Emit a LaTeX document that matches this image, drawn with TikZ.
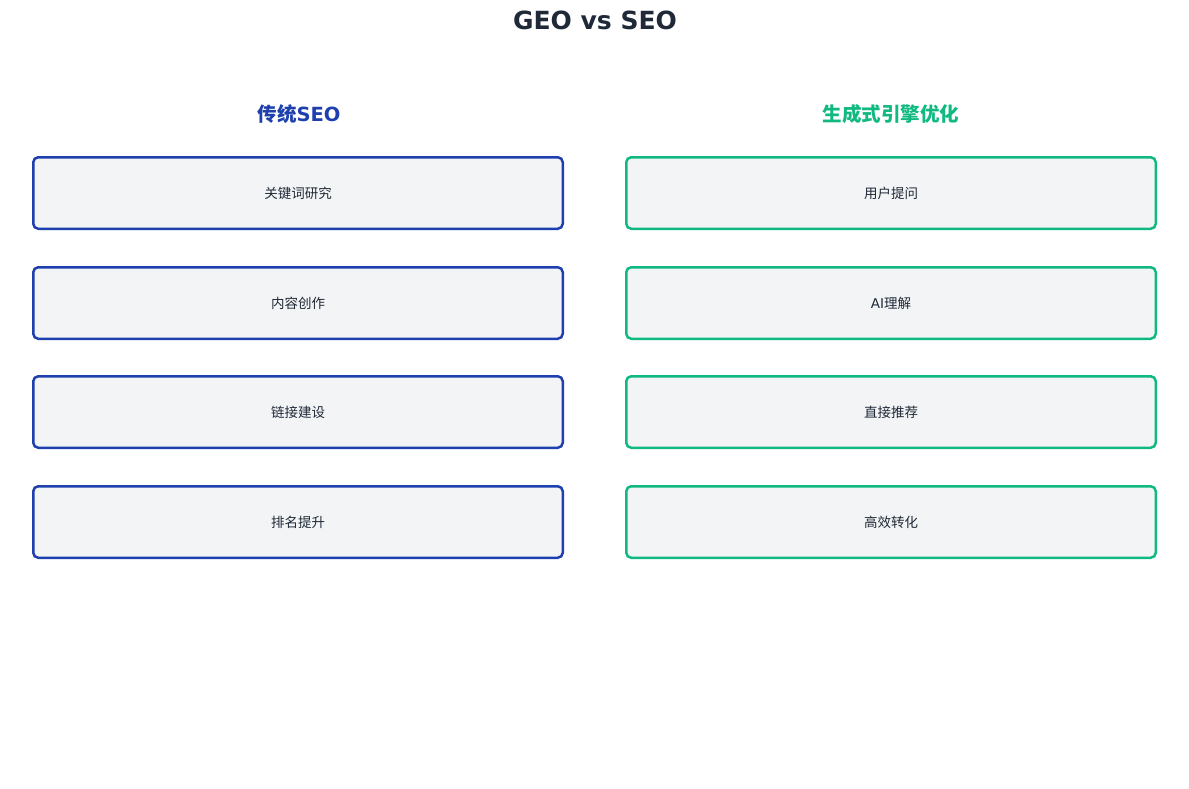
\documentclass[tikz,border=0pt]{standalone}
\usepackage{fontspec}
\setmainfont{DejaVu Sans}
\newfontfamily\cjk{Noto Sans CJK SC}
\definecolor{tblue}{HTML}{1E40AF}
\definecolor{tgreen}{HTML}{10B981}
\definecolor{tfill}{HTML}{F3F4F6}
\definecolor{tdark}{HTML}{1F2937}
\begin{document}
\begin{tikzpicture}[x=1pt,y=-1pt,
  itembox/.style={draw, line width=2.5pt, fill=tfill, rounded corners=5pt,
    minimum width=529.5pt, minimum height=71.5pt, inner sep=0pt, anchor=north west,
    text=tdark, font=\fontsize{13.5}{16}\selectfont\cjk},
  bluebox/.style={itembox, draw=tblue},
  greenbox/.style={itembox, draw=tgreen},
  coltitle/.style={font=\fontsize{19.5}{22}\selectfont\bfseries, inner sep=0pt}]
\useasboundingbox (0,0) rectangle (1189,788);
\node[font=\fontsize{25}{28}\selectfont\bfseries, text=tdark, inner sep=0pt] (title) at (595,20) {GEO vs SEO};
\node[coltitle, text=tblue] (lt) at (299,114) {{\cjk 传统}SEO};
\node[coltitle, text=tgreen] (rt) at (891,114) {\cjk 生成式引擎优化};
\node[bluebox] (l1) at (32,156) {关键词研究};
\node[bluebox] (l2) at (32,266) {内容创作};
\node[bluebox] (l3) at (32,375) {链接建设};
\node[bluebox] (l4) at (32,485) {排名提升};
\node[greenbox] (r1) at (625,156) {用户提问};
\node[greenbox] (r2) at (625,266) {{\fontspec{DejaVu Sans}AI}理解};
\node[greenbox] (r3) at (625,375) {直接推荐};
\node[greenbox] (r4) at (625,485) {高效转化};
\end{tikzpicture}
\end{document}
